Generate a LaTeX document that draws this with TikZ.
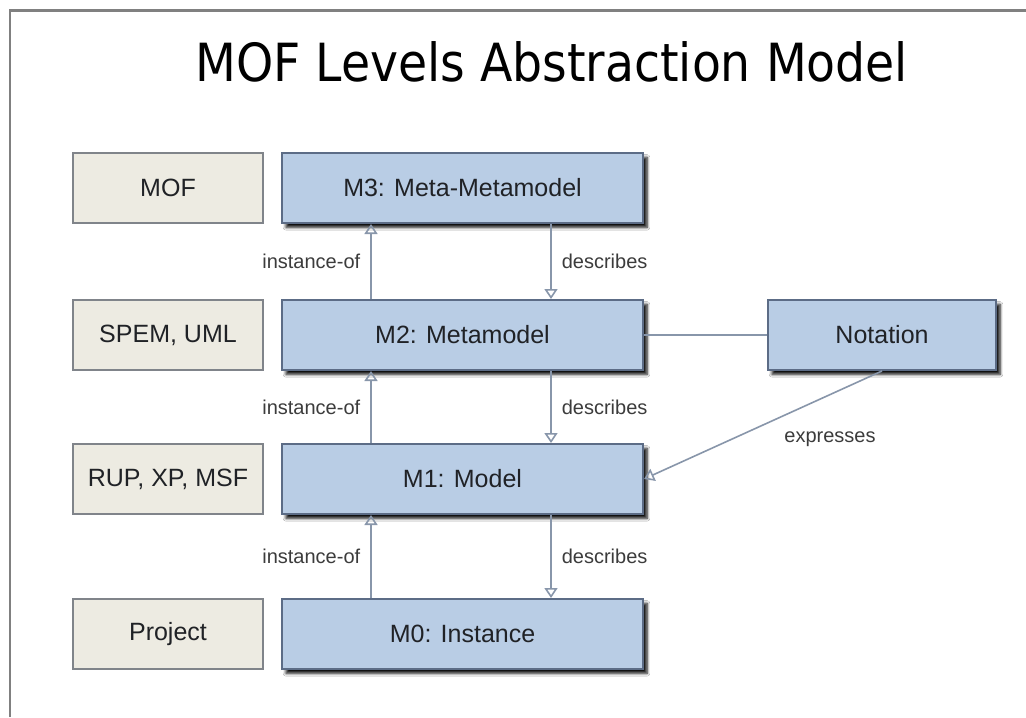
\documentclass[tikz,border=0pt]{standalone}
\usepackage{fontspec}
\setmainfont{Liberation Sans}
\newfontfamily\titlefont{DejaVu Sans Condensed}
\usetikzlibrary{arrows.meta,shadows.blur}

\definecolor{levelfill}{RGB}{185,205,229}
\definecolor{leveldraw}{RGB}{92,108,134}
\definecolor{examplefill}{RGB}{237,235,226}
\definecolor{exampledraw}{RGB}{128,132,138}
\definecolor{linkcol}{RGB}{136,150,170}
\definecolor{framecol}{RGB}{128,128,128}
\definecolor{boxtext}{RGB}{32,34,38}
\definecolor{labeltext}{RGB}{60,60,60}
\definecolor{shadowcol}{RGB}{40,44,52}

\tikzset{
  levelbox/.style={draw=leveldraw, line width=1pt, fill=levelfill,
    minimum width=180.5pt, minimum height=35pt, inner sep=0pt,
    font=\fontsize{12.5pt}{14pt}\selectfont, text=boxtext,
    blur shadow={shadow xshift=2pt, shadow yshift=-2.2pt,
      shadow blur radius=1.4pt, shadow blur steps=6, shadow opacity=95,
      shadow blur extra rounding=0pt}},
  examplebox/.style={draw=exampledraw, line width=0.8pt, fill=examplefill,
    minimum width=95pt, minimum height=35pt, inner sep=0pt,
    font=\fontsize{12.5pt}{14pt}\selectfont, text=boxtext},
  notebox/.style={levelbox, minimum width=114pt},
  link/.style={draw=linkcol, line width=0.8pt},
  inst/.style={link, -{Triangle[open, length=5pt, width=6.5pt]}},
  linklabel/.style={font=\fontsize{10pt}{12pt}\selectfont, text=labeltext, inner sep=0pt}
}

\begin{document}
\begin{tikzpicture}[x=0.5pt, y=-0.5pt]
  \useasboundingbox (0,0) rectangle (1026,717);
  \fill[white] (0,0) rectangle (1026,717);

  % slide frame
  \draw[framecol, line width=1.3pt] (10,717) -- (10,10.5) -- (1026,10.5);

  % title
  \node[anchor=base west, inner sep=0pt, font=\titlefont\fontsize{26.3pt}{31pt}\selectfont]
    (title) at (195,82) {MOF Levels Abstraction Model};

  % example technologies per level
  \node[examplebox] (mof)  at (168,188) {MOF};
  \node[examplebox] (spem) at (168,335) {SPEM, UML};
  \node[examplebox] (rup)  at (168,479) {RUP, XP, MSF};
  \node[examplebox] (proj) at (168,634) {Project};

  % abstraction levels
  \node[levelbox] (m3) at (462.5,188) {M3: Meta-Metamodel};
  \node[levelbox] (m2) at (462.5,335) {M2: Metamodel};
  \node[levelbox] (m1) at (462.5,479) {M1: Model};
  \node[levelbox] (m0) at (462.5,634) {M0: Instance};

  \node[notebox] (notation) at (882,335) {Notation};

  % instance-of links (left column)
  \draw[inst] ([xshift=45pt]m2.north west) -- ([xshift=45pt]m3.south west)
    node[pos=0.5, linklabel, anchor=east, xshift=-5pt] (io3) {instance-of};
  \draw[inst] ([xshift=45pt]m1.north west) -- ([xshift=45pt]m2.south west)
    node[pos=0.5, linklabel, anchor=east, xshift=-5pt] (io2) {instance-of};
  \draw[inst] ([xshift=45pt]m0.north west) -- ([xshift=45pt]m1.south west)
    node[pos=0.5, linklabel, anchor=east, xshift=-5pt] (io1) {instance-of};

  % describes links (right column)
  \draw[inst] ([xshift=135pt]m3.south west) -- ([xshift=135pt]m2.north west)
    node[pos=0.5, linklabel, anchor=west, xshift=5pt] (d3) {describes};
  \draw[inst] ([xshift=135pt]m2.south west) -- ([xshift=135pt]m1.north west)
    node[pos=0.5, linklabel, anchor=west, xshift=5pt] (d2) {describes};
  \draw[inst] ([xshift=135pt]m1.south west) -- ([xshift=135pt]m0.north west)
    node[pos=0.5, linklabel, anchor=west, xshift=5pt] (d1) {describes};

  % notation
  \draw[link] (m2.east) -- (notation.west);
  \draw[inst] (notation.south) -- (m1.east);
  \node[linklabel] (expr) at (830,439) {expresses};
\end{tikzpicture}
\end{document}
